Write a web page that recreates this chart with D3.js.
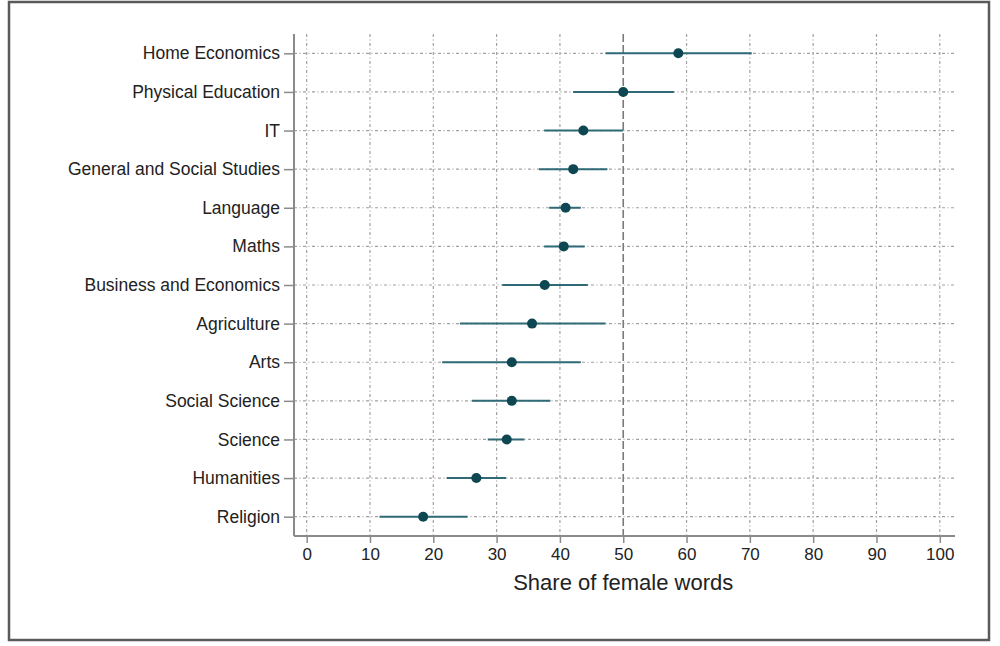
<!DOCTYPE html>
<html>
<head>
<meta charset="utf-8">
<script src="https://cdn.jsdelivr.net/npm/d3@7"></script>
<style>
  html, body { margin: 0; padding: 0; background: #fff; }
  svg { display: block; font-family: "Liberation Sans", Arial, sans-serif; }
</style>
</head>
<body>
<svg id="chart" width="1000" height="646"></svg>
<script>
const subjects = ["Home Economics", "Physical Education", "IT", "General and Social Studies",
  "Language", "Maths", "Business and Economics", "Agriculture", "Arts",
  "Social Science", "Science", "Humanities", "Religion"];
const estimates = [58.7, 50.0, 43.7, 42.1, 40.9, 40.6, 37.6, 35.6, 32.4, 32.4, 31.6, 26.8, 18.4];
const lowerCI   = [47.2, 42.1, 37.5, 36.7, 38.3, 37.5, 30.9, 24.2, 21.4, 26.1, 28.6, 22.1, 11.5];
const upperCI   = [70.3, 58.0, 50.0, 47.5, 43.3, 43.9, 44.4, 47.2, 43.3, 38.5, 34.4, 31.5, 25.4];
const xTicks = [0, 10, 20, 30, 40, 50, 60, 70, 80, 90, 100];
const refValue = 50;
const xTitle = "Share of female words";

(function () {
const svg = d3.select("#chart");

// outer frame
svg.append("rect").attr("x", 9).attr("y", 2).attr("width", 980).attr("height", 638)
  .attr("fill", "none").attr("stroke", "#5a5a5a").attr("stroke-width", 2.5);

const pl = 294, pr = 955, pt = 34, pb = 536;
const x = d3.scaleLinear().domain([-2, 102.4]).range([pl, pr]);
const y = d3.scalePoint().domain(subjects).range([pt, pb]).padding(0.5);

const g = svg.append("g");

// horizontal gridlines
g.selectAll(".hgrid").data(subjects).join("line")
  .attr("x1", pl).attr("x2", pr)
  .attr("y1", d => y(d)).attr("y2", d => y(d))
  .attr("stroke", "#a0a0a0").attr("stroke-width", 1.2)
  .attr("stroke-dasharray", "3,2.5,1,2.5");

// vertical gridlines
g.selectAll(".vgrid").data(xTicks.filter(t => t !== refValue)).join("line")
  .attr("x1", d => x(d)).attr("x2", d => x(d))
  .attr("y1", pt).attr("y2", pb)
  .attr("stroke", "#a0a0a0").attr("stroke-width", 1.2)
  .attr("stroke-dasharray", "3,2.5,1,2.5");

// reference line at 50
g.append("line")
  .attr("x1", x(refValue)).attr("x2", x(refValue))
  .attr("y1", pt).attr("y2", pb)
  .attr("stroke", "#7a7a7a").attr("stroke-width", 1.6)
  .attr("stroke-dasharray", "8,3");

// axes
const yAxis = d3.axisLeft(y).tickSize(10).tickPadding(4);
const yg = svg.append("g").attr("transform", `translate(${pl},0)`).call(yAxis);
yg.select(".domain").attr("d", `M0,${pt}V${pb}`).attr("stroke", "#8a8a8a").attr("stroke-width", 2);
yg.selectAll(".tick line").attr("stroke", "#8a8a8a").attr("stroke-width", 1.5);
yg.selectAll(".tick text").attr("font-size", 17.5).attr("fill", "#222")
  .attr("font-family", "'Liberation Sans', Arial, sans-serif");

const xAxis = d3.axisBottom(x).tickValues(xTicks).tickSize(7).tickPadding(5);
const xg = svg.append("g").attr("transform", `translate(0,${pb})`).call(xAxis);
xg.select(".domain").attr("d", `M${pl},0H${pr}`).attr("stroke", "#8a8a8a").attr("stroke-width", 2);
xg.selectAll(".tick line").attr("stroke", "#8a8a8a").attr("stroke-width", 1.5);
xg.selectAll(".tick text").attr("font-size", 17).attr("fill", "#222")
  .attr("font-family", "'Liberation Sans', Arial, sans-serif");

svg.append("text")
  .attr("x", x(50)).attr("y", 590)
  .attr("text-anchor", "middle")
  .attr("font-size", 22).attr("fill", "#222")
  .text(xTitle);

// CI lines
const rows = subjects.map((s, i) => ({ s, est: estimates[i], lo: lowerCI[i], hi: upperCI[i] }));
g.selectAll(".ci").data(rows).join("line")
  .attr("x1", d => x(d.lo)).attr("x2", d => x(d.hi))
  .attr("y1", d => y(d.s)).attr("y2", d => y(d.s))
  .attr("stroke", "#2f6a76").attr("stroke-width", 2);

g.selectAll(".pt").data(rows).join("circle")
  .attr("cx", d => x(d.est)).attr("cy", d => y(d.s)).attr("r", 5)
  .attr("fill", "#0e4752");
})();
</script>
</body>
</html>
